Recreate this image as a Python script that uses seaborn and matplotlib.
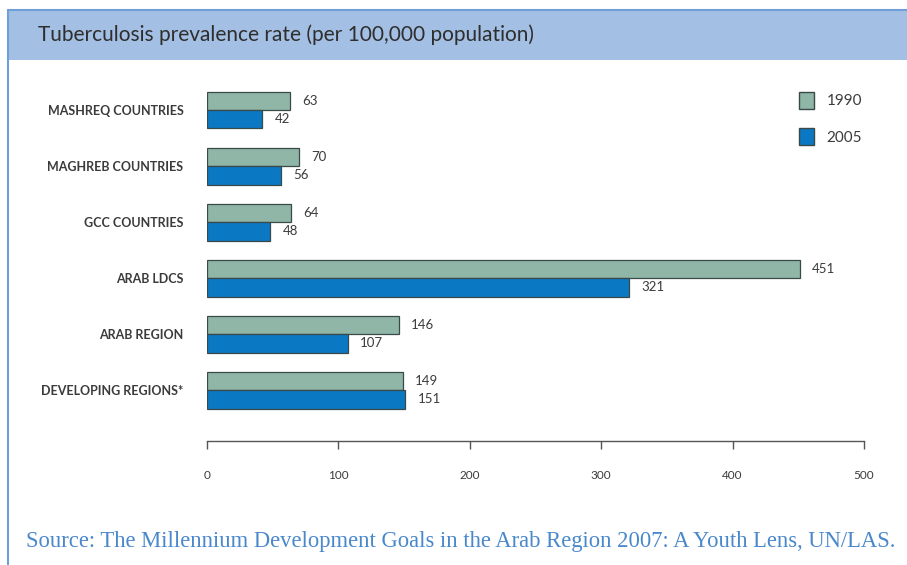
import matplotlib
matplotlib.use("Agg")
import matplotlib.pyplot as plt
import matplotlib.patches as mpatches
import seaborn as sns
import pandas as pd

# data
regions = ["Mashreq Countries", "Maghreb Countries", "GCC Countries",
           "Arab LDCs", "Arab Region", "Developing Regions*"]
years = ["1990", "2005"]
rate_1990 = [63, 70, 64, 451, 146, 149]
rate_2005 = [42, 56, 48, 321, 107, 151]
x_ticks = [0, 100, 200, 300, 400, 500]

title = "Tuberculosis prevalence rate (per 100,000 population)"
source = ("Source: The Millennium Development Goals in the Arab Region 2007: "
          "A Youth Lens, UN/LAS.")

df = pd.DataFrame({
    "region": regions * 2,
    "year": [years[0]] * len(regions) + [years[1]] * len(regions),
    "rate": rate_1990 + rate_2005,
})

sns.set_style("white")
plt.rcParams["font.family"] = ["Lato", "DejaVu Sans"]

colors = {"1990": "#8fb6a6", "2005": "#0b78c4"}
edge = "#3a4a48"
text_col = "#3b3b3b"

fig = plt.figure(figsize=(9.07, 5.65), dpi=100)
W, H = 907, 565

# header band + frame
fig.patches.append(mpatches.Rectangle((8 / W, 1 - 60 / H), 1, 50 / H,
                                      transform=fig.transFigure,
                                      facecolor="#a3bfe3", edgecolor="none"))
fig.add_artist(plt.Line2D([8 / W, 1], [1 - 10 / H, 1 - 10 / H],
                          transform=fig.transFigure, color="#6f9fd6", lw=1.5))
fig.add_artist(plt.Line2D([7.5 / W, 7.5 / W], [0, 1 - 10 / H],
                          transform=fig.transFigure, color="#6f9fd6", lw=1.5))
fig.text(38 / W, 1 - 35 / H, title, fontsize=15, color="#2e2e2e",
         va="center", ha="left")

ax = fig.add_axes([207 / W, 1 - 441 / H, 657 / W, 361 / H])
sns.barplot(data=df, x="rate", y="region", hue="year", order=regions,
            hue_order=years, palette=colors, width=0.66, orient="h",
            edgecolor=edge, linewidth=0.9, saturation=1, ax=ax)

for cont in ax.containers:
    ax.bar_label(cont, padding=9, fontsize=9.5, color=text_col)

ax.set_xlim(0, 500)
ax.set_ylim(5.91, -0.536)
ax.set_xticks(x_ticks)
ax.set_xlabel("")
ax.set_ylabel("")
ax.set_yticks(range(len(regions)))
ax.set_yticklabels([r.upper() for r in regions], fontsize=9,
                   color=text_col, fontweight="bold")
ax.tick_params(axis="y", length=0, pad=17)
ax.tick_params(axis="x", bottom=True, direction="out", length=6, width=1,
               color="#555555", labelsize=8.5, labelcolor=text_col, pad=15)
sns.despine(ax=ax, left=True, top=True, right=True)
ax.spines["bottom"].set_color("#555555")
ax.spines["bottom"].set_linewidth(1)

handles = [mpatches.Patch(facecolor=colors[y], edgecolor=edge, label=y)
           for y in years]
ax.legend(handles=handles, loc="upper left", bbox_to_anchor=(0.88, 1.005),
          frameon=False, fontsize=11, handlelength=1.0, handleheight=1.3,
          labelspacing=1.3, handletextpad=0.8, labelcolor=text_col)

fig.text(26 / W, 1 - 542 / H, source, fontsize=16.3, color="#4a88cc",
         family=["Liberation Serif", "DejaVu Serif"], va="center", ha="left")

fig.savefig("out.png", dpi=100)
plt.close(fig)
